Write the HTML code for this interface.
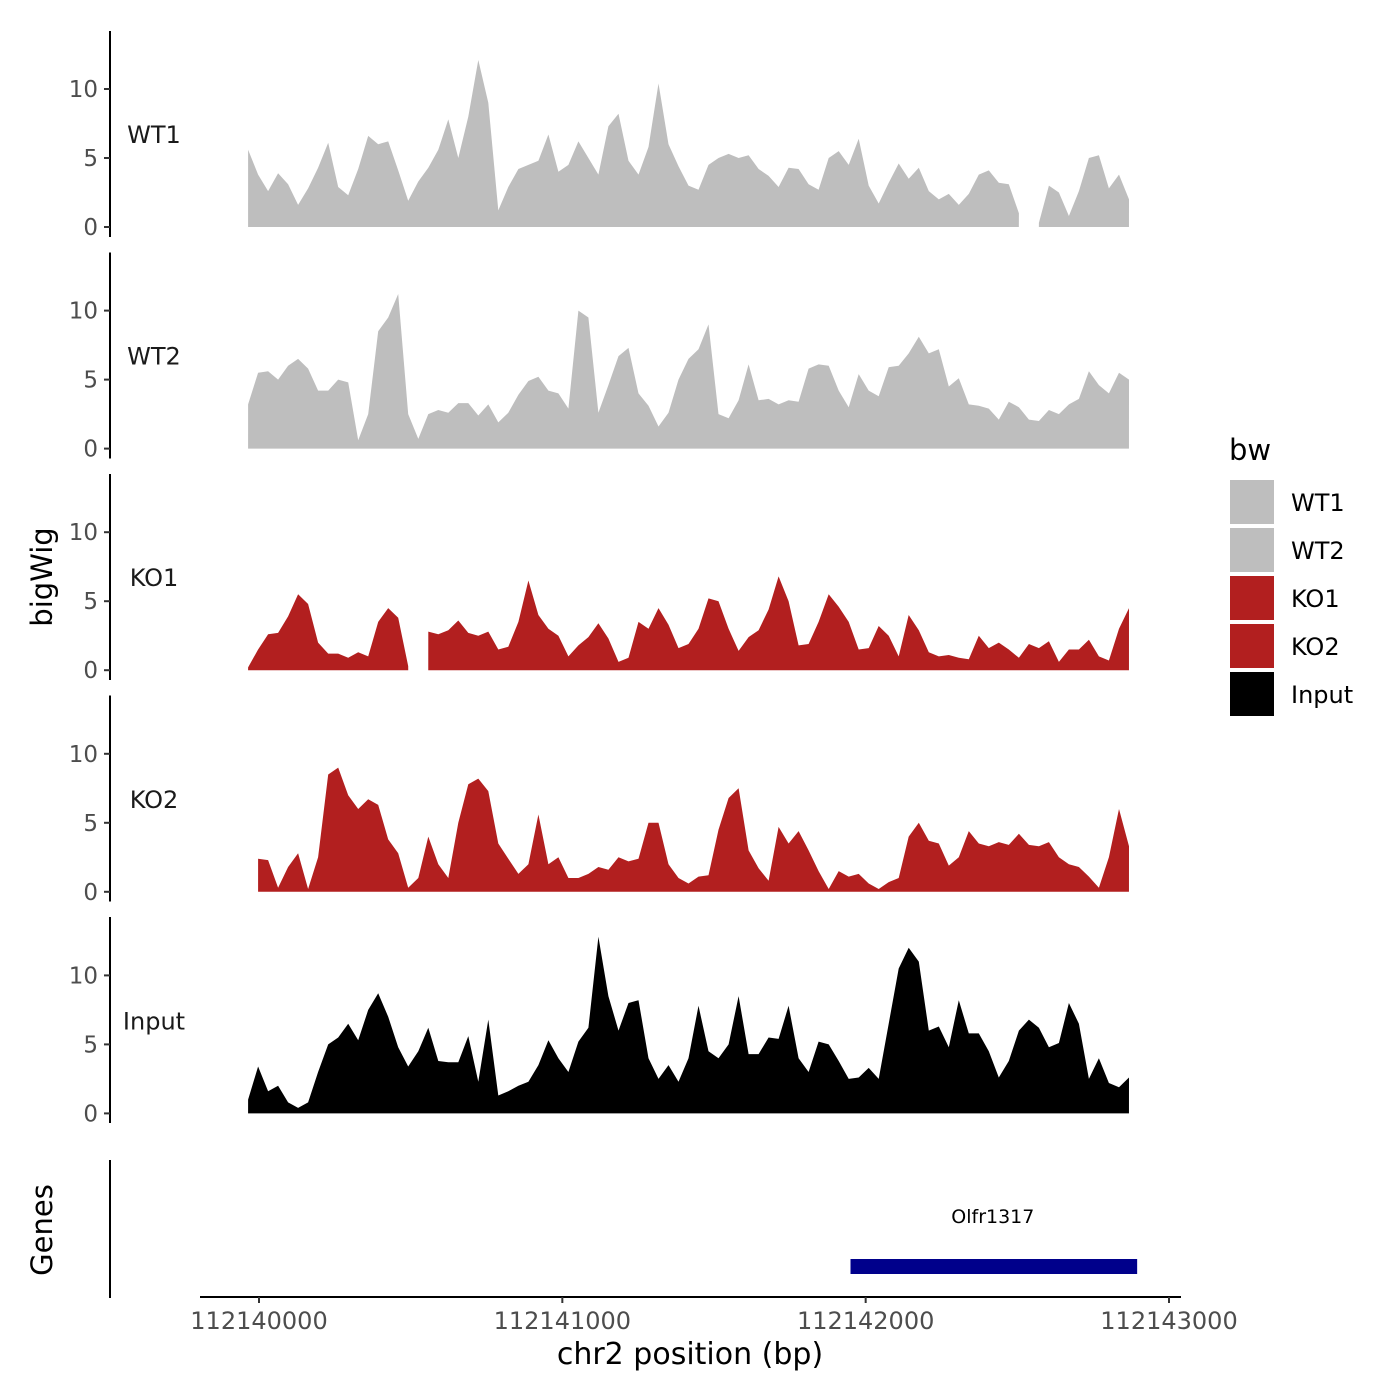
<!DOCTYPE html>
<html><head><meta charset="utf-8"><style>
html,body{margin:0;padding:0;background:#fff;}
svg{display:block;font-family:"DejaVu Sans","Liberation Sans",sans-serif;}
</style></head><body>
<svg id="chart" width="1400" height="1400" viewBox="0 0 1400 1400" xmlns="http://www.w3.org/2000/svg">
<rect width="1400" height="1400" fill="#fff"/>
<g id="tracks"></g>
<text transform="translate(52,577) rotate(-90)" text-anchor="middle" font-size="29" fill="#000">bigWig</text>
<text transform="translate(52,1230) rotate(-90)" text-anchor="middle" font-size="29" fill="#000">Genes</text>
<line x1="110" y1="1160" x2="110" y2="1298" stroke="#000" stroke-width="2"/>
<line x1="200" y1="1297" x2="1181" y2="1297" stroke="#000" stroke-width="2"/>
<g id="xticks"></g>
<text x="690" y="1364" text-anchor="middle" font-size="30" fill="#000">chr2 position (bp)</text>
<g id="gene"></g>
<g>
<text x="1229" y="460" font-size="29" fill="#000">bw</text>
<g id="legend-items"></g>
</g>
</svg>
<script>
const samples = ["WT1","WT2","KO1","KO2","Input"];
const colors = ["#bebebe","#bebebe","#b21f1f","#b21f1f","#000000"];
const startBp = -36, stepBp = 33, originBp = 112140000;
const xTicks = [0,1000,2000,3000];
const xTickLabels = ["112140000","112141000","112142000","112143000"];
const yTicks = [0,5,10];
const geneName = "Olfr1317";
const geneStartBp = 1950, geneEndBp = 2895;
const wt1 = [5.6,3.8,2.6,3.9,3.1,1.6,2.8,4.3,6.1,2.9,2.3,4.2,6.6,6.0,6.2,4.1,1.9,3.3,4.3,5.6,7.8,5.0,8.0,12.1,9.0,1.2,2.9,4.2,4.5,4.8,6.7,4.0,4.5,6.2,5.0,3.8,7.3,8.2,4.8,3.8,5.8,10.4,6.0,4.4,3.0,2.7,4.5,5.0,5.3,5.0,5.2,4.2,3.7,2.9,4.3,4.2,3.1,2.7,5.0,5.5,4.5,6.4,3.0,1.7,3.2,4.6,3.5,4.3,2.6,2.0,2.4,1.6,2.4,3.8,4.1,3.2,3.1,1.0,null,0.3,3.0,2.5,0.8,2.6,5.0,5.2,2.8,3.8,2.0];
const wt2 = [3.2,5.5,5.6,5.0,6.0,6.5,5.8,4.2,4.2,5.0,4.8,0.6,2.5,8.5,9.5,11.2,2.5,0.7,2.5,2.8,2.6,3.3,3.3,2.4,3.2,1.9,2.6,3.9,4.9,5.2,4.2,4.0,2.9,10.0,9.5,2.6,4.6,6.7,7.3,4.0,3.1,1.6,2.6,5.0,6.5,7.2,9.0,2.5,2.2,3.5,6.1,3.5,3.6,3.2,3.5,3.4,5.8,6.1,6.0,4.2,3.0,5.4,4.2,3.8,5.9,6.0,6.9,8.1,6.9,7.2,4.5,5.1,3.2,3.1,2.9,2.1,3.4,3.0,2.1,2.0,2.8,2.5,3.2,3.6,5.6,4.6,4.0,5.5,5.0];
const ko1 = [0.2,1.5,2.6,2.7,3.9,5.5,4.8,2.0,1.2,1.2,0.9,1.3,1.0,3.5,4.5,3.8,0.3,null,2.8,2.6,2.9,3.6,2.7,2.5,2.8,1.5,1.7,3.5,6.5,4.0,3.0,2.5,1.0,1.8,2.4,3.4,2.3,0.6,0.9,3.5,3.0,4.5,3.3,1.6,1.9,3.0,5.2,5.0,3.0,1.4,2.4,2.9,4.4,6.8,5.0,1.8,1.9,3.5,5.5,4.6,3.5,1.5,1.6,3.2,2.5,1.0,4.0,2.9,1.3,1.0,1.1,0.9,0.8,2.5,1.6,2.0,1.5,0.9,1.9,1.6,2.1,0.6,1.5,1.5,2.2,1.0,0.7,3.0,4.5];
const ko2 = [null,2.4,2.3,0.3,1.8,2.8,0.2,2.5,8.5,9.0,7.0,6.0,6.7,6.3,3.8,2.8,0.3,1.0,4.0,2.0,1.0,5.0,7.8,8.2,7.3,3.5,2.4,1.3,2.0,5.6,2.0,2.5,1.0,1.0,1.3,1.8,1.6,2.5,2.2,2.4,5.0,5.0,2.0,1.0,0.6,1.1,1.2,4.5,6.8,7.5,3.0,1.7,0.8,4.7,3.5,4.4,3.0,1.5,0.2,1.5,1.1,1.3,0.6,0.2,0.7,1.0,4.0,5.0,3.7,3.5,1.9,2.5,4.4,3.5,3.3,3.6,3.4,4.2,3.4,3.3,3.6,2.5,2.0,1.8,1.1,0.3,2.5,6.0,3.3];
const input = [1.0,3.4,1.6,2.0,0.8,0.4,0.8,3.0,5.0,5.5,6.5,5.3,7.5,8.7,7.0,4.8,3.4,4.5,6.2,3.8,3.7,3.7,5.6,2.3,6.8,1.3,1.6,2.0,2.3,3.5,5.3,4.0,3.0,5.2,6.2,12.8,8.5,6.0,8.0,8.2,4.0,2.5,3.5,2.3,4.0,7.8,4.5,4.0,5.0,8.5,4.3,4.3,5.5,5.4,7.8,4.0,3.0,5.2,5.0,3.8,2.5,2.6,3.3,2.5,6.5,10.5,12.0,11.0,6.0,6.3,4.8,8.2,5.8,5.8,4.5,2.6,3.8,6.0,6.8,6.2,4.8,5.1,8.0,6.5,2.5,4.0,2.2,1.9,2.6];
const series = [wt1,wt2,ko1,ko2,input];

const NS = "http://www.w3.org/2000/svg";
const xScale = bp => 259 + bp * (910/3000);
const panelTop = i => 31 + i * 221.5;
const yZero = i => 227 + i * 221.6;
const yScale = (i, v) => yZero(i) - v * 13.8;
function mk(tag, attrs, parent){const e=document.createElementNS(NS,tag);for(const k in attrs)e.setAttribute(k,attrs[k]);parent.appendChild(e);return e;}

const tracks = document.getElementById("tracks");
samples.forEach((name, i) => {
  const g = mk("g", {}, tracks);
  
  
  const ax = mk("line", {x1:110,y1:panelTop(i),x2:110,y2:panelTop(i)+206,stroke:"#000","stroke-width":2}, g);
  
  
  yTicks.forEach(t => {
    const y = yScale(i, t);
    const tk = mk("line", {x1:104,y1:y,x2:110,y2:y,stroke:"#333","stroke-width":2}, g);
    
    
    const tl = mk("text", {x:98,y:y+8,"text-anchor":"end","font-size":23,fill:"#4d4d4d"}, g);
    tl.textContent = t;
    
    
  });
  const lbl = mk("text", {x:154,y:yZero(i)-84,"text-anchor":"middle","font-size":24,fill:"#1a1a1a"}, g);
  lbl.textContent = name;
  
  
  const vals = series[i];
  let seg = [];
  const segs = [];
  vals.forEach((v, j) => {
    if (v === null) { if (seg.length) segs.push(seg); seg = []; }
    else seg.push([startBp + j*stepBp, v]);
  });
  if (seg.length) segs.push(seg);
  segs.forEach(s => {
    const y0 = yZero(i);
    let d = "M" + xScale(s[0][0]) + "," + y0;
    s.forEach(p => { d += "L" + xScale(p[0]).toFixed(1) + "," + yScale(i, p[1]).toFixed(1); });
    d += "L" + xScale(s[s.length-1][0]) + "," + y0 + "Z";
    const a = mk("path", {d:d, fill:colors[i]}, g);
    
    
  });
});

const xt = document.getElementById("xticks");
xTicks.forEach((t, k) => {
  const x = xScale(t);
  const l = mk("line", {x1:x,y1:1297,x2:x,y2:1303,stroke:"#333","stroke-width":2}, xt);
  
  
  const tx = mk("text", {x:x,y:1329,"text-anchor":"middle","font-size":24,fill:"#4d4d4d"}, xt);
  tx.textContent = xTickLabels[k];
  
  
});

const gg = document.getElementById("gene");
const gr = mk("rect", {x:xScale(geneStartBp),y:1259,width:xScale(geneEndBp)-xScale(geneStartBp),height:15,fill:"#00008b"}, gg);


const gt = mk("text", {x:(xScale(geneStartBp)+xScale(geneEndBp))/2-1,y:1223,"text-anchor":"middle","font-size":19,fill:"#000"}, gg);
gt.textContent = geneName;



const li = document.getElementById("legend-items");
samples.forEach((name, i) => {
  const y = 480 + i*48;
  const r = mk("rect", {x:1230,y:y,width:44,height:44,fill:colors[i]}, li);
  
  
  const t = mk("text", {x:1291,y:y+31,"font-size":24,fill:"#000"}, li);
  t.textContent = name;
  
  
});
</script>
</body></html>
